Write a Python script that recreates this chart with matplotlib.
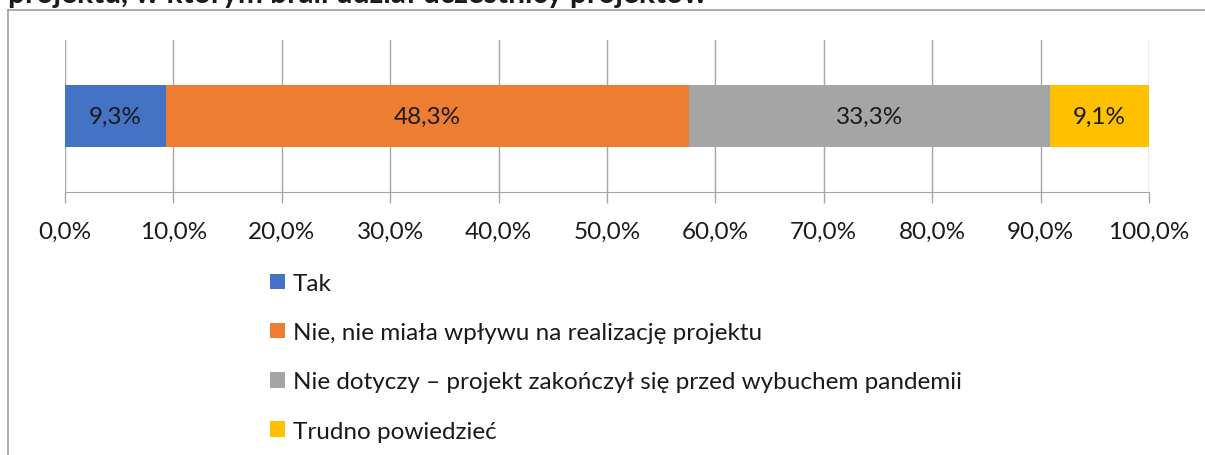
import matplotlib
matplotlib.use("Agg")
import matplotlib.pyplot as plt
from matplotlib.ticker import FuncFormatter, MultipleLocator
from matplotlib.lines import Line2D

plt.rcParams['font.family'] = ['Lato', 'DejaVu Sans']

# data
categories = ['Tak',
              'Nie, nie miała wpływu na realizację projektu',
              'Nie dotyczy – projekt zakończył się przed wybuchem pandemii',
              'Trudno powiedzieć']
values = [9.3, 48.3, 33.3, 9.1]
colors = ['#4472C4', '#ED7D31', '#A5A5A5', '#FFC000']
title = 'projektu, w którym brali udział uczestnicy projektów'

FS = 17.5
W, H = 1205, 456
fig = plt.figure(figsize=(W / 100, H / 100), dpi=100)
ax = fig.add_axes([65 / W, 1 - 193 / H, (1149 - 65) / W, (193 - 41) / H])

left = 0
bars = []
for cat, v, c in zip(categories, values, colors):
    b = ax.barh(0, v, left=left, height=62 / 152, color=c, label=cat, zorder=3)
    bars.append(b)
    ax.text(left + v / 2, 0, f"{v:.1f}%".replace('.', ','), ha='center', va='center',
            fontsize=FS, color='#1a1a1a', zorder=4)
    left += v

ax.set_xlim(0, 100)
ax.set_ylim(-0.5, 0.5)
ax.xaxis.set_major_locator(MultipleLocator(10))
ax.xaxis.set_major_formatter(FuncFormatter(lambda x, p: f"{x:.1f}%".replace('.', ',')))
ax.set_yticks([])
ax.grid(axis='x', color='#A6A6A6', linewidth=1, zorder=0)
for s in ['top', 'right', 'left']:
    ax.spines[s].set_visible(False)
ax.spines['bottom'].set_color('#A6A6A6')
ax.tick_params(axis='x', length=8, width=1, color='#A6A6A6', labelsize=FS,
               labelcolor='#1a1a1a', pad=13)

# legend
fig.legend(handles=[b[0] for b in bars], labels=categories, loc='upper left',
           bbox_to_anchor=(270 / W, 1 - 274 / H), frameon=False, fontsize=FS,
           handlelength=0.6, handleheight=0.6, handletextpad=0.33,
           labelspacing=1.16, borderpad=0, borderaxespad=0, labelcolor='#1a1a1a')

# outer chart frame (extends past the picture)
fig.add_artist(Line2D([8 / W, 1], [1 - 11 / H, 1 - 11 / H], color='#9E9E9E', lw=1.2,
                      transform=fig.transFigure))
fig.add_artist(Line2D([8 / W, 8 / W], [0, 1 - 11 / H], color='#9E9E9E', lw=1.2,
                      transform=fig.transFigure))

# title, cut off at the top
fig.text(8 / W, 1 - 3 / H, title, fontsize=21.5, fontweight='bold', ha='left',
         va='baseline', color='#1a1a1a')

fig.savefig('out.png', dpi=100)
